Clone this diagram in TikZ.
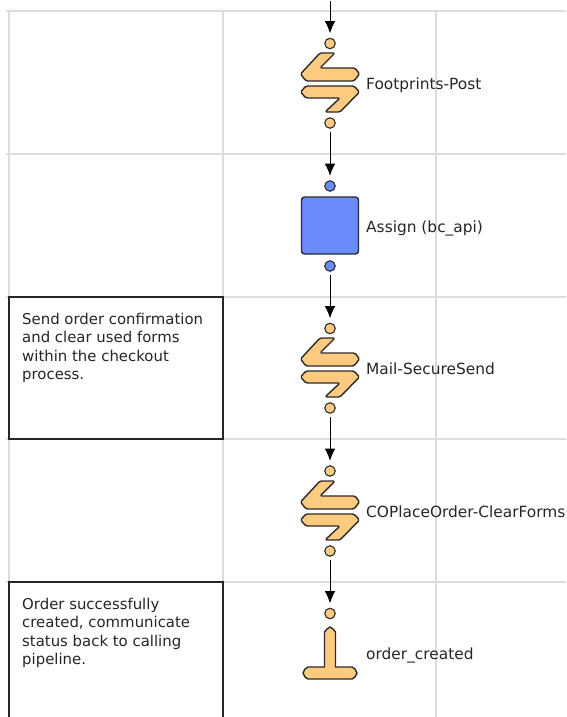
\documentclass[tikz,border=0pt]{standalone}
\usepackage{fontspec}
\setmainfont{DejaVu Sans}
\usetikzlibrary{arrows.meta}
\definecolor{peach}{HTML}{FDCB80}
\definecolor{bluefill}{HTML}{6A8CFB}
\definecolor{gridc}{HTML}{DCDCDC}
\definecolor{edge}{HTML}{2A2A2A}
\tikzset{
  x=1pt,y=-1pt,
  port/.style={circle,draw=edge,line width=1.1pt,minimum size=10.5pt,inner sep=0pt},
  oport/.style={port,fill=peach},
  bport/.style={port,fill=bluefill},
  body/.style={draw=edge,line width=1.4pt,fill=peach,rounded corners=1.5pt,line join=round},
  label/.style={anchor=base west,font=\fontsize{15.4}{18}\selectfont,text=black!85,inner sep=0pt},
  flow/.style={draw=black,line width=0.9pt,-{Latex[length=12pt,width=10.5pt,sharp]},shorten >=4.5pt,shorten <=3pt},
  gridl/.style={draw=gridc,line width=1.1pt},
  notebox/.style={draw=black!85,line width=1.2pt,fill=white},
  notetext/.style={anchor=north west,align=left,font=\fontsize{14.9}{18.4}\selectfont,text=black!85,inner sep=0pt}
}
\begin{document}
\begin{tikzpicture}
\useasboundingbox (0,0) rectangle (566,717);
% grid
\draw[gridl] (9,11) -- (9,717);
\draw[gridl] (223,11) -- (223,717);
\draw[gridl] (436,11) -- (436,717);
\draw[gridl] (6,11) -- (566,11);
\draw[gridl] (6,154) -- (566,154);
\draw[gridl] (6,297) -- (566,297);
\draw[gridl] (6,439) -- (566,439);
\draw[gridl] (6,582) -- (566,582);
% note boxes
\draw[notebox] (9,297) rectangle (223,439);
\draw[notebox] (223,717) -- (223,582) -- (9,582) -- (9,717);
\node[notetext] (note1) at (22,313) {Send order confirmation\\and clear used forms\\within the checkout\\process.};
\node[notetext] (note2) at (22,598) {Order successfully\\created, communicate\\status back to calling\\pipeline.};
% shapes
\begin{scope}[shift={(0,83)}]
\draw[body] (320,-30) -- (335,-30) -- (320,-15) -- (355,-15) -- (359.5,-9) -- (354,-2) -- (306,-2) -- (300.5,-9) -- cycle;
\draw[body] (306,3) -- (354,3) -- (359.5,9) -- (340,29) -- (325,29) -- (340,15) -- (306,15) -- (300.5,9) -- cycle;
\end{scope}
\begin{scope}[shift={(0,368)}]
\draw[body] (320,-30) -- (335,-30) -- (320,-15) -- (355,-15) -- (359.5,-9) -- (354,-2) -- (306,-2) -- (300.5,-9) -- cycle;
\draw[body] (306,3) -- (354,3) -- (359.5,9) -- (340,29) -- (325,29) -- (340,15) -- (306,15) -- (300.5,9) -- cycle;
\end{scope}
\begin{scope}[shift={(0,511)}]
\draw[body] (320,-30) -- (335,-30) -- (320,-15) -- (355,-15) -- (359.5,-9) -- (354,-2) -- (306,-2) -- (300.5,-9) -- cycle;
\draw[body] (306,3) -- (354,3) -- (359.5,9) -- (340,29) -- (325,29) -- (340,15) -- (306,15) -- (300.5,9) -- cycle;
\end{scope}
\draw[body,fill=bluefill,rounded corners=3pt] (301.5,197) rectangle (358.5,254);
\draw[draw=edge,line width=1.4pt,fill=peach,line join=round] (324.5,667) -- (324.5,632) -- (327,629) -- (330,627) -- (333,629) -- (335.5,632) -- (335.5,667) -- (352,667) -- (355,669) -- (357,673) -- (355,677) -- (352,679) -- (308,679) -- (305,677) -- (303,673) -- (305,669) -- (308,667) -- cycle;
% ports
\coordinate (start) at (330,-2);
\node[oport] (p1) at (330,43.5) {};
\node[oport] (p2) at (330,123) {};
\node[bport] (p3) at (330,186) {};
\node[bport] (p4) at (330,266) {};
\node[oport] (p5) at (330,328.5) {};
\node[oport] (p6) at (330,408) {};
\node[oport] (p7) at (330,471) {};
\node[oport] (p8) at (330,551) {};
\node[oport] (p9) at (330,613.5) {};
% labels
\node[label] (l1) at (366,89) {Footprints-Post};
\node[label] (l2) at (366,232) {Assign (bc\_api)};
\node[label] (l3) at (366,374) {Mail-SecureSend};
\node[label] (l4) at (366,517) {COPlaceOrder-ClearForms};
\node[label] (l5) at (366,659) {order\_created};
% connectors
\draw[flow] (start) -- (p1);
\draw[flow] (p2) -- (p3);
\draw[flow] (p4) -- (p5);
\draw[flow] (p6) -- (p7);
\draw[flow] (p8) -- (p9);
\end{tikzpicture}
\end{document}
